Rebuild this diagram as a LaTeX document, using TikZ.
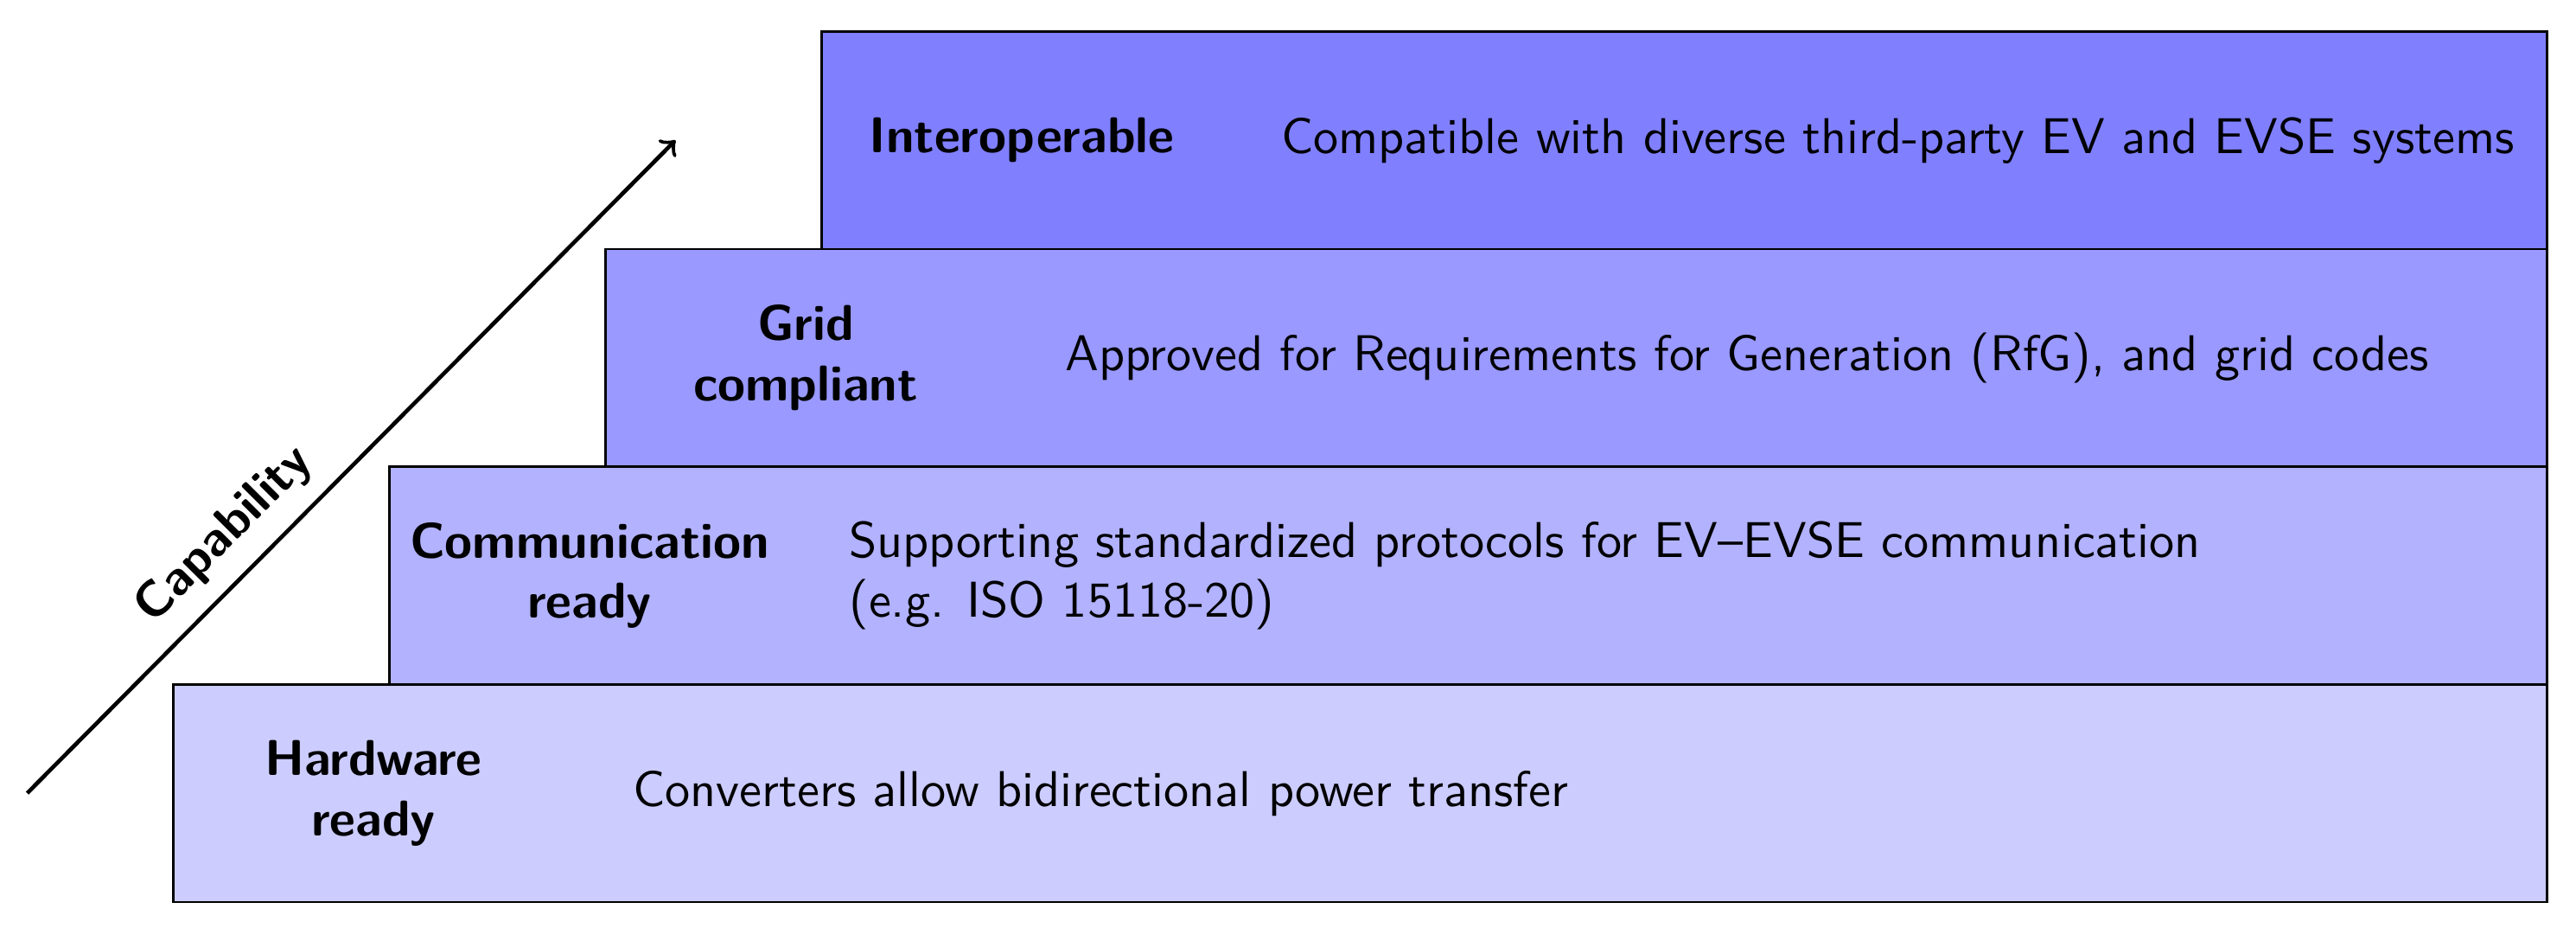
\documentclass[tikz,border=0pt]{standalone}
\usepackage{tikz}
\usetikzlibrary{arrows}
\tikzset{tag/.style={font=\sffamily\bfseries,align=center}}

\begin{document}
\begin{tikzpicture}[font=\sffamily]
\tikzstyle{level} = [draw=black, line width=0.5pt]
\tikzstyle{desc} = [anchor=west, align=left]
\useasboundingbox (0,0) rectangle (18.0,6.48);

% stacked levels, bottom first
\draw[level, fill=blue!20] (1.21,0.18) rectangle (17.8,1.70);
\draw[level, fill=blue!30] (2.72,1.70) rectangle (17.8,3.22);
\draw[level, fill=blue!40] (4.23,3.22) rectangle (17.8,4.74);
\draw[level, fill=blue!50] (5.74,4.74) rectangle (17.8,6.26);

\node[tag](hwtag) at (2.61, 0.94){Hardware\\ready};
\node[desc](hwdesc) at (4.30, 0.94){Converters allow bidirectional power transfer};

\node[tag](comtag) at (4.12, 2.46){Communication\\ready};
\node[desc](comdesc) at (5.81, 2.46){Supporting standardized protocols for EV--EVSE communication\\(e.g. ISO 15118-20)};

\node[tag](gridtag) at (5.63, 3.98){Grid\\compliant};
\node[desc](griddesc) at (7.32, 3.98){Approved for Requirements for Generation (RfG), and grid codes};

\node[tag](optag) at (7.14, 5.50){Interoperable};
\node[desc](opdesc) at (8.83, 5.50){Compatible with diverse third-party EV and EVSE systems};

% capability axis
\coordinate (capA) at (0.19, 0.94);
\coordinate (capB) at (4.72, 5.50);
\draw[thick, ->] (capA) -- (capB) node[tag, pos=.35, above, sloped](cap){Capability};

\end{tikzpicture}
\end{document}
